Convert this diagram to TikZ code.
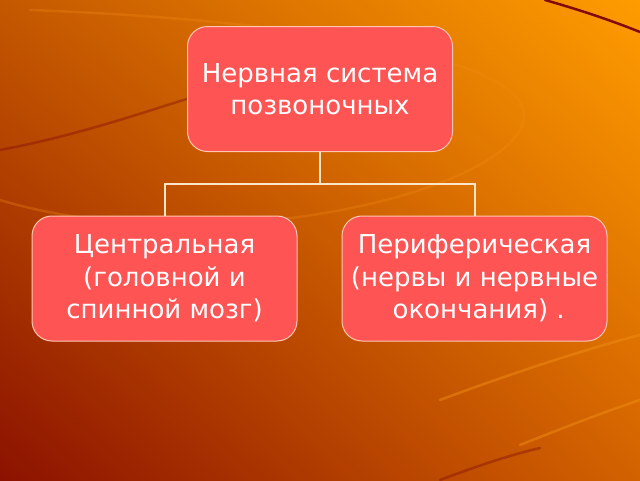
\documentclass[tikz,border=0pt]{standalone}
\usepackage{fontspec}
\setmainfont{DejaVu Sans}
\usetikzlibrary{shadings,calc}
\begin{document}
\begin{tikzpicture}[x=1pt,y=-1pt,
  box/.style={draw=boxedge, line width=1pt, fill=boxfill, rounded corners=20pt,
    minimum width=265pt, minimum height=125pt, text=white, align=center,
    font=\fontsize{26}{32.5}\selectfont, inner sep=0pt},
  wire/.style={draw=wirecol, line width=2pt},
  deco/.style={line width=2.5pt, line cap=round}]
\definecolor{boxfill}{RGB}{255,84,84}
\definecolor{boxedge}{RGB}{255,200,180}
\definecolor{wirecol}{RGB}{255,228,200}
\definecolor{bgLL}{RGB}{140,18,0}
\definecolor{bgUL}{RGB}{196,88,0}
\definecolor{bgLR}{RGB}{210,98,0}
\definecolor{bgUR}{RGB}{255,156,0}
\definecolor{decolight}{RGB}{240,140,20}
\definecolor{decodark}{RGB}{130,10,10}
\useasboundingbox (0,0) rectangle (640,480);
\shade[lower left=bgLL, upper left=bgUL, lower right=bgLR, upper right=bgUR] (0,0) rectangle (640,480);
% decorative curves
\draw[deco, draw=decolight, opacity=0.3] (30,10) .. controls (300,20) and (560,60) .. (520,130) .. controls (480,200) and (200,260) .. (0,200);
\draw[deco, draw=decodark, opacity=0.4] (0,150) .. controls (80,135) and (150,110) .. (190,98);
\draw[deco, draw=decodark] (545,0) .. controls (580,10) and (610,20) .. (640,32);
\draw[deco, draw=decolight, opacity=0.5] (440,400) .. controls (520,370) and (600,345) .. (640,335);
\draw[deco, draw=decolight, opacity=0.5] (520,445) .. controls (570,425) and (610,410) .. (640,400);
\draw[deco, draw=decodark, opacity=0.4] (440,480) .. controls (480,465) and (510,455) .. (540,448);
\node[box] (top) at (320,89) {Нервная система\\позвоночных};
\node[box] (left) at (164.5,278.5) {Центральная\\(головной и\ \\спинной мозг)};
\node[box] (right) at (474.5,278.5) {Периферическая\\(нервы и нервные\\\ окончания) .};
\coordinate (bar) at ($(top.south)+(0,32)$);
\draw[wire] (top.south) -- (bar);
\draw[wire] (left.north) |- (bar) -| (right.north);
\end{tikzpicture}
\end{document}
